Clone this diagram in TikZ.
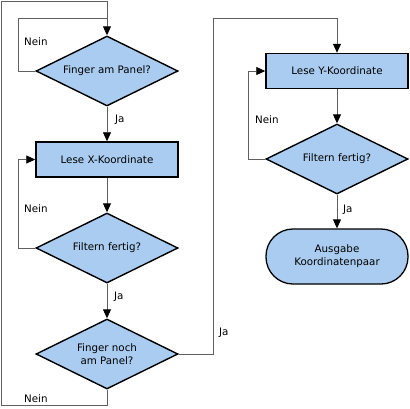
\documentclass[tikz,border=0pt]{standalone}
\usepackage{fontspec}
\setmainfont{DejaVu Sans}
\usetikzlibrary{shapes.geometric,arrows.meta}
\definecolor{fillblue}{HTML}{A9CCF0}
\definecolor{linegray}{HTML}{606060}
\tikzset{
  every node/.style={font=\fontsize{10.3}{13}\selectfont},
  decision/.style={diamond, draw=black, line width=1.4pt, fill=fillblue, minimum width=142pt, minimum height=70pt, aspect=2.03, inner sep=0pt, align=center},
  process/.style={rectangle, draw=black, line width=1.5pt, fill=fillblue, minimum width=142pt, minimum height=35pt, inner sep=0pt, align=center},
  terminal/.style={rectangle, rounded corners=27pt, draw=black, line width=1.3pt, fill=fillblue, minimum width=142pt, minimum height=55pt, inner sep=0pt, align=center},
  conn/.style={draw=linegray, line width=0.9pt},
  arr/.style={conn, -{Triangle[length=9pt,width=8pt,fill=black,color=black]}},
  lbl/.style={inner sep=0pt, anchor=west}
}
\begin{document}
\begin{tikzpicture}[x=1pt,y=-1pt]
\useasboundingbox (0,0) rectangle (410,408);
% nodes
\node[decision] (d1) at (107,71) {Finger am Panel?};
\node[process] (bx) at (107,159.5) {Lese X-Koordinate};
\node[decision] (d2) at (107,248) {Filtern fertig?};
\node[decision] (d3) at (107,354) {Finger noch\\am Panel?};
\node[process] (by) at (337,71) {Lese Y-Koordinate};
\node[decision] (d4) at (337,159) {Filtern fertig?};
\node[terminal] (out) at (337,256.5) {Ausgabe\\Koordinatenpaar};
% coordinates
\coordinate (c1) at (107,405);
\coordinate (c2) at (1,405);
\coordinate (c3) at (1,1);
\coordinate (c4) at (107,1);
\coordinate (n1a) at (18,71);
\coordinate (n1b) at (18,18);
\coordinate (n1c) at (107,18);
\coordinate (n2a) at (18,248);
\coordinate (n2b) at (18,159.5);
\coordinate (j3a) at (213,354);
\coordinate (j3b) at (213,18);
\coordinate (j3c) at (337,18);
\coordinate (n4a) at (248,159);
\coordinate (n4b) at (248,71);
% connectors
\draw[conn] (d3.south) -- (c1) -- (c2) -- (c3) -- (c4) -- (n1c);
\draw[conn] (d1.west) -- (n1a) -- (n1b) -- (n1c);
\draw[arr] (n1c) -- (d1.north);
\draw[arr] (d1.south) -- (bx.north);
\draw[arr] (bx.south) -- (d2.north);
\draw[arr] (d2.west) -- (n2a) -- (n2b) -- (bx.west);
\draw[arr] (d2.south) -- (d3.north);
\draw[arr] (d3.east) -- (j3a) -- (j3b) -- (j3c) -- (by.north);
\draw[arr] (by.south) -- (d4.north);
\draw[arr] (d4.west) -- (n4a) -- (n4b) -- (by.west);
\draw[arr] (d4.south) -- (out.north);
% labels
\node[lbl] (l1) at (24,42) {Nein};
\node[lbl] (l2) at (115,120) {Ja};
\node[lbl] (l3) at (24,209) {Nein};
\node[lbl] (l4) at (114,297) {Ja};
\node[lbl] (l5) at (24,399) {Nein};
\node[lbl] (l6) at (219,333) {Ja};
\node[lbl] (l7) at (255,120) {Nein};
\node[lbl] (l8) at (343,210) {Ja};
\end{tikzpicture}
\end{document}
